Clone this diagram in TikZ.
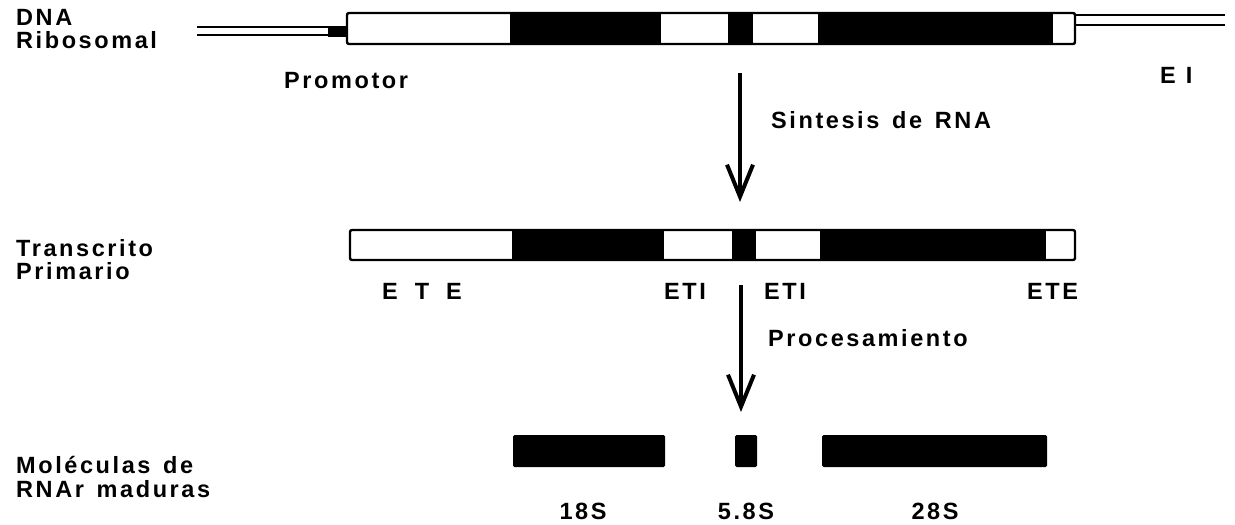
\documentclass[tikz,border=0pt]{standalone}
\usepackage{fontspec}
\usetikzlibrary{arrows.meta}
\newfontfamily\lsf{Liberation Sans}[LetterSpace=11,WordSpace=1.4]
\begin{document}
\begin{tikzpicture}[x=1pt,y=-1pt,
  lbl/.style={font=\lsf\bfseries\fontsize{23.5}{26}\selectfont, anchor=base west, inner sep=0pt},
  clbl/.style={font=\lsf\bfseries\fontsize{23.5}{26}\selectfont, anchor=base, inner sep=0pt},
  outline/.style={draw=black, line width=2.4pt, rounded corners=2pt, fill=white},
  blk/.style={fill=black, draw=black, line width=1pt},
  strand/.style={line width=2pt},
  bigarrow/.style={line width=4pt, -{Straight Barb[length=32pt,width=26pt,line width=4pt]}}]
\useasboundingbox (0,0) rectangle (1235,525);

% ---------- DNA ribosomal ----------
\node[lbl] (dna1) at (16,25) {DNA};
\node[lbl] (dna2) at (16,48) {Ribosomal};
\draw[strand] (197,27) -- (330,27);
\draw[strand] (197,35) -- (330,35);
\fill (328,26) rectangle (349,37);
\draw[strand] (1075,15) -- (1225,15);
\draw[strand] (1075,25) -- (1225,25);
\draw[outline] (347,13) rectangle (1075,44);
\fill[blk] (510,14) rectangle (660,43);
\fill[blk] (728,14) rectangle (752,43);
\fill[blk] (818,14) rectangle (1052,43);
\node[lbl] (prom) at (284,88) {Promotor};
\node[lbl] (ei) at (1160,83) {E\hspace{10pt}I};

% ---------- arrow 1 ----------
\coordinate (a1s) at (740,73);
\coordinate (a1e) at (740,202);
\draw[bigarrow] (a1s) -- (a1e);
\node[lbl] (sint) at (771,128) {Sintesis de RNA};

% ---------- transcrito primario ----------
\node[lbl] (tp1) at (16,256) {Transcrito};
\node[lbl] (tp2) at (16,279) {Primario};
\draw[outline] (350,230) rectangle (1075,260);
\fill[blk] (512,231) rectangle (663,259);
\fill[blk] (732,231) rectangle (755,259);
\fill[blk] (820,231) rectangle (1045,259);
\node[lbl] (ete1) at (382,299) {E\hspace{17pt}T\hspace{17pt}E};
\node[lbl] (eti1) at (664,299) {ETI};
\node[lbl] (eti2) at (764,299) {ETI};
\node[lbl] (ete2) at (1027,299) {ETE};

% ---------- arrow 2 ----------
\coordinate (a2s) at (741,285);
\coordinate (a2e) at (741,412);
\draw[bigarrow] (a2s) -- (a2e);
\node[lbl] (proc) at (768,346) {Procesamiento};

% ---------- mature molecules ----------
\node[lbl] (mol1) at (16,473) {Moléculas de};
\node[lbl] (mol2) at (16,497) {RNAr maduras};
\fill[rounded corners=1.5pt] (513,435) rectangle (665,467);
\fill[rounded corners=1.5pt] (735,435) rectangle (757,467);
\fill[rounded corners=1.5pt] (822,435) rectangle (1047,467);
\node[clbl] (s18) at (583,519) {18S};
\node[clbl] (s58) at (746,519) {5.8S};
\node[clbl] (s28) at (935,519) {28S};
\end{tikzpicture}
\end{document}
